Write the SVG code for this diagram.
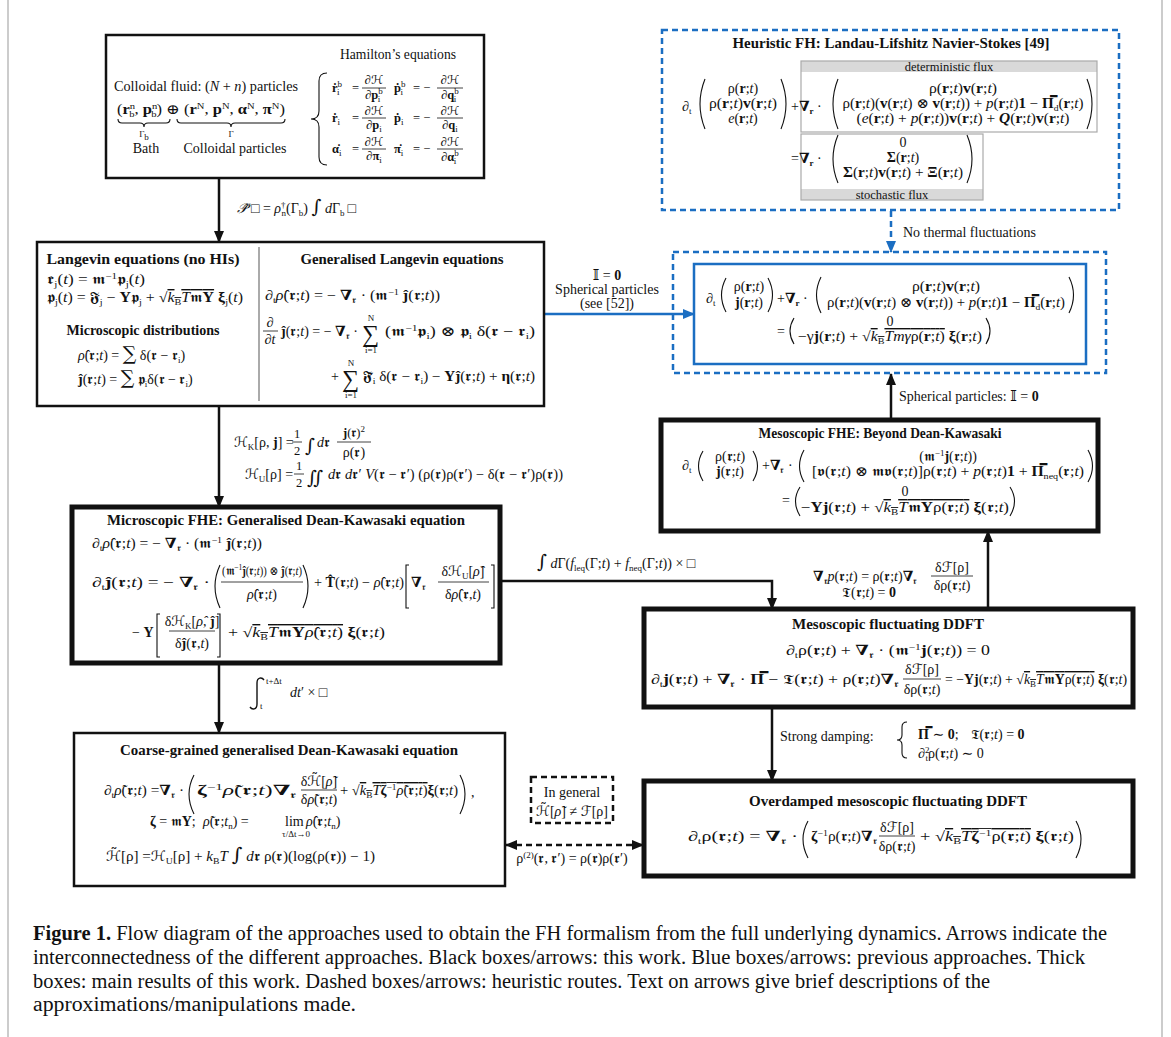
<svg xmlns="http://www.w3.org/2000/svg" width="1171" height="1037" viewBox="0 0 1171 1037">
<defs>
<style>
text{font-family:"Liberation Serif","DejaVu Serif","DejaVu Sans",serif;font-size:14px;fill:#111}
.ti{font-weight:bold;font-size:14px;text-anchor:middle}
.c{text-anchor:middle}
.b{font-weight:bold}
.i{font-style:italic}
.sb{font-size:9px;baseline-shift:-3px}
.sp{font-size:9px;baseline-shift:5px}
.ov{text-decoration:overline}
.bg{font-size:19px;font-family:"DejaVu Serif",serif}
.sg{font-size:24px}
.sm{font-size:9px}
.fs{font-size:12.5px}
.fl{stroke:#111;stroke-width:0.8}
.pr{fill:none;stroke:#111;stroke-width:1.1}
.bx{fill:#fff;stroke:#111;stroke-width:2.5}
.bt{fill:#fff;stroke:#111;stroke-width:5}
.bs{fill:#fff;stroke:#1b6ec2;stroke-width:2.5}
.bd{fill:none;stroke:#1b6ec2;stroke-width:2.5;stroke-dasharray:6 4}
.kd{fill:none;stroke:#111;stroke-width:2.5;stroke-dasharray:6 4}
.gb{fill:none;stroke:#aaa;stroke-width:1.2}
.gf{fill:#d9d9d9}
.cn{fill:none;stroke:#111;stroke-width:2.5}
.cb{fill:none;stroke:#1b6ec2;stroke-width:2.5}
.cap{font-size:20.5px}
.fr{fill:none;stroke:#aaa;stroke-width:1.2}
</style>
<marker id="ak" viewBox="0 0 12 10" refX="11" refY="5" markerWidth="12" markerHeight="10" markerUnits="userSpaceOnUse" orient="auto-start-reverse"><path d="M0,0 L12,5 L0,10 z" fill="#111"/></marker>
<marker id="ab" viewBox="0 0 12 10" refX="11" refY="5" markerWidth="12" markerHeight="10" markerUnits="userSpaceOnUse" orient="auto-start-reverse"><path d="M0,0 L12,5 L0,10 z" fill="#1b6ec2"/></marker>
</defs>
<rect width="1171" height="1037" fill="#fff"/>
<line class="fr" x1="8" y1="0" x2="8" y2="1037"/>
<line class="fr" x1="1162" y1="0" x2="1162" y2="1037"/>

<g id="connectors">
<line class="cn" x1="219" y1="178" x2="219" y2="242" marker-end="url(#ak)"/>
<line class="cb" x1="544" y1="314" x2="694" y2="314" marker-end="url(#ab)"/>
<line class="bd" x1="891" y1="211" x2="891" y2="252" marker-end="url(#ab)"/>
<line class="cn" x1="891" y1="420" x2="891" y2="374" marker-end="url(#ak)"/>
<line class="cn" x1="219" y1="406" x2="219" y2="507" marker-end="url(#ak)"/>
<path class="cn" d="M500,581 H772 V609" marker-end="url(#ak)"/>
<line class="cn" x1="988" y1="609" x2="988" y2="531" marker-end="url(#ak)"/>
<line class="cn" x1="772" y1="707" x2="772" y2="781" marker-end="url(#ak)"/>
<line class="cn" x1="219" y1="663" x2="219" y2="733" marker-end="url(#ak)"/>
<line class="kd" x1="506" y1="845" x2="643" y2="845" marker-start="url(#ak)" marker-end="url(#ak)"/>
<text x="237" y="213"><tspan class="i">𝒫̂</tspan><tspan dx="4">□ = </tspan><tspan class="i">ρ</tspan><tspan class="sp">†</tspan><tspan class="sb" dx="-4">n</tspan>(Γ<tspan class="sb">b</tspan>) <tspan class="bg">∫</tspan> <tspan class="i">d</tspan>Γ<tspan class="sb">b</tspan><tspan dx="3">□</tspan></text>
<text class="c" x="607" y="280">𝕀 = <tspan class="b">0</tspan></text>
<text class="c" x="607" y="294">Spherical particles</text>
<text class="c" x="607" y="308">(see [52])</text>
<text x="903" y="237">No thermal fluctuations</text>
<text x="899" y="401">Spherical particles: 𝕀 = <tspan class="b">0</tspan></text>
<text x="234" y="447">ℋ<tspan class="sb">K</tspan>[ρ, <tspan class="b">j</tspan>] =</text>
<text class="c fs" x="297" y="438">1</text><line class="fl" x1="292" y1="442" x2="302" y2="442"/><text class="c fs" x="297" y="455">2</text>
<text class="bg" x="305" y="452">∫</text>
<text x="317" y="447"><tspan class="i">d</tspan>𝖗</text>
<text class="c fs" x="354" y="437"><tspan class="b">j</tspan>(𝖗)<tspan class="sp">2</tspan></text><line class="fl" x1="337" y1="442" x2="371" y2="442"/><text class="c" x="354" y="457">ρ(𝖗)</text>
<text x="245" y="479">ℋ<tspan class="sb">U</tspan>[ρ] =</text>
<text class="c fs" x="299" y="470">1</text><line class="fl" x1="294" y1="474" x2="304" y2="474"/><text class="c fs" x="299" y="487">2</text>
<text class="bg" x="307" y="484">∬</text>
<text x="328" y="479" textLength="235" lengthAdjust="spacingAndGlyphs"><tspan class="i">d</tspan>𝖗 <tspan class="i">d</tspan>𝖗′ <tspan class="i">V</tspan>(𝖗 − 𝖗′) (ρ(𝖗)ρ(𝖗′) − δ(𝖗 − 𝖗′)ρ(𝖗))</text>
<text x="537" y="568"><tspan class="bg">∫</tspan> <tspan class="i">d</tspan>Γ(<tspan class="i">f</tspan><tspan class="sb">leq</tspan>(Γ;<tspan class="i">t</tspan>) + <tspan class="i">f</tspan><tspan class="sb">neq</tspan>(Γ;<tspan class="i">t</tspan>)) × □</text>
<text x="813" y="581"><tspan class="b">∇</tspan><tspan class="sb">𝖗</tspan><tspan class="i">p</tspan>(𝖗;<tspan class="i">t</tspan>) = ρ(𝖗;<tspan class="i">t</tspan>)<tspan class="b">∇</tspan><tspan class="sb">𝖗</tspan></text>
<text class="c" x="952" y="572">δℱ[ρ]</text><line class="fl" x1="931" y1="576" x2="973" y2="576"/><text class="c" x="952" y="590">δρ(𝖗;<tspan class="i">t</tspan>)</text>
<text x="842" y="597">𝕿(𝖗;<tspan class="i">t</tspan>) = <tspan class="b">0</tspan></text>
<text x="780" y="741">Strong damping:</text>
<path class="pr" stroke-width="1.5" d="M907,722 q-5,0 -5,5 v8 q0,5 -5,5 q5,0 5,5 v8 q0,5 5,5"/>
<text x="918" y="739"><tspan class="b">Π̿</tspan> ∼ <tspan class="b">0</tspan>;<tspan dx="12">𝕿(𝖗;</tspan><tspan class="i">t</tspan>) = <tspan class="b">0</tspan></text>
<text x="918" y="758">∂<tspan class="sp">2</tspan><tspan class="sb" dx="-4">t</tspan>ρ(𝖗;<tspan class="i">t</tspan>) ∼ 0</text>
<path fill="none" stroke="#111" stroke-width="1.4" d="M264,680 c-2,-3 -7,-3 -7,3 v21 c0,6 -5,6 -7,3"/>
<text class="sm" x="266" y="684">t+Δt</text>
<text class="sm" x="260" y="709">t</text>
<text x="290" y="697"><tspan class="i">dt</tspan>′ × □</text>
<text class="c" x="572" y="863">ρ<tspan class="sp">(2)</tspan>(𝖗, 𝖗′) = ρ(𝖗)ρ(𝖗′)</text>
</g>

<g id="hamilton">
<rect class="bx" stroke-width="3" x="106" y="35" width="378" height="143"/>
<text x="114" y="91" textLength="184" lengthAdjust="spacingAndGlyphs">Colloidal fluid: (<tspan class="i">N</tspan> + <tspan class="i">n</tspan>) particles</text>
<text x="117" y="114" textLength="168" lengthAdjust="spacingAndGlyphs">(<tspan class="b">r</tspan><tspan class="sp">n</tspan><tspan class="sb" dx="-5">b</tspan>, <tspan class="b">p</tspan><tspan class="sp">n</tspan><tspan class="sb" dx="-5">b</tspan>) ⊕ (<tspan class="b">r</tspan><tspan class="sp">N</tspan>, <tspan class="b">p</tspan><tspan class="sp">N</tspan>, <tspan class="b">α</tspan><tspan class="sp">N</tspan>, <tspan class="b">π</tspan><tspan class="sp">N</tspan>)</text>
<path class="pr" d="M118,119 q0,4 4,4 h18 q4,0 4,4 q0,-4 4,-4 h18 q4,0 4,-4"/>
<path class="pr" d="M177,119 q0,4 4,4 h46 q4,0 4,4 q0,-4 4,-4 h46 q4,0 4,-4"/>
<text class="c sm" x="144" y="137">Γ<tspan class="sb">b</tspan></text>
<text class="c sm" x="231" y="137">Γ</text>
<text class="c" x="146" y="153">Bath</text>
<text class="c" x="235" y="153">Colloidal particles</text>
<text class="c" x="398" y="59" textLength="116" lengthAdjust="spacingAndGlyphs">Hamilton’s equations</text>
<path class="pr" stroke-width="1.8" d="M327,73 q-8,0 -8,8 v30 q0,8 -8,8 q8,0 8,8 v30 q0,8 8,8"/>
<text class="fs" x="332" y="92"><tspan class="b">ṙ</tspan><tspan class="sp">b</tspan><tspan class="sb" dx="-5">i</tspan></text><text class="fs" x="352" y="92">=</text>
<text class="c fs" x="374" y="84">∂ℋ</text><line class="fl" x1="362" y1="88" x2="386" y2="88"/><text class="c fs" x="374" y="99">∂<tspan class="b">p</tspan><tspan class="sp">b</tspan><tspan class="sb" dx="-5">i</tspan></text>
<text class="fs" x="394" y="92"><tspan class="b">ṗ</tspan><tspan class="sp">b</tspan><tspan class="sb" dx="-5">i</tspan></text><text class="fs" x="413" y="92">= −</text>
<text class="c fs" x="450" y="84">∂ℋ</text><line class="fl" x1="437" y1="88" x2="463" y2="88"/><text class="c fs" x="450" y="99">∂<tspan class="b">q</tspan><tspan class="sp">b</tspan><tspan class="sb" dx="-5">i</tspan></text>
<text class="fs" x="332" y="122"><tspan class="b">ṙ</tspan><tspan class="sb">i</tspan></text><text class="fs" x="352" y="122">=</text>
<text class="c fs" x="374" y="115">∂ℋ</text><line class="fl" x1="362" y1="118" x2="386" y2="118"/><text class="c fs" x="374" y="129">∂<tspan class="b">p</tspan><tspan class="sb">i</tspan></text>
<text class="fs" x="394" y="122"><tspan class="b">ṗ</tspan><tspan class="sb">i</tspan></text><text class="fs" x="413" y="122">= −</text>
<text class="c fs" x="450" y="115">∂ℋ</text><line class="fl" x1="437" y1="118" x2="463" y2="118"/><text class="c fs" x="450" y="129">∂<tspan class="b">q</tspan><tspan class="sb">i</tspan></text>
<text class="fs" x="332" y="153"><tspan class="b">α̇</tspan><tspan class="sb">i</tspan></text><text class="fs" x="352" y="153">=</text>
<text class="c fs" x="374" y="146">∂ℋ</text><line class="fl" x1="362" y1="149" x2="386" y2="149"/><text class="c fs" x="374" y="160">∂<tspan class="b">π</tspan><tspan class="sb">i</tspan></text>
<text class="fs" x="394" y="153"><tspan class="b">π̇</tspan><tspan class="sb">i</tspan></text><text class="fs" x="413" y="153">= −</text>
<text class="c fs" x="450" y="146">∂ℋ</text><line class="fl" x1="437" y1="149" x2="463" y2="149"/><text class="c fs" x="450" y="161">∂<tspan class="b">α</tspan><tspan class="sp">b</tspan><tspan class="sb" dx="-5">i</tspan></text>
</g>

<g id="heuristic">
<rect class="bd" x="662" y="30" width="457" height="180"/>
<text class="ti" x="891" y="48" textLength="317" lengthAdjust="spacingAndGlyphs">Heuristic FH: Landau-Lifshitz Navier-Stokes [49]</text>
<rect class="gf" x="801" y="61" width="296" height="11"/>
<rect class="gb" x="801" y="61" width="296" height="71"/>
<text class="c fs" x="949" y="71">deterministic flux</text>
<rect class="gf" x="801" y="189" width="182" height="11"/>
<rect class="gb" x="801" y="134" width="182" height="66"/>
<text class="c fs" x="892" y="199">stochastic flux</text>
<text x="682" y="111">∂<tspan class="sb">t</tspan></text>
<path class="pr" d="M705,79 Q695,104 705,129"/>
<text class="c" x="743" y="93">ρ(<tspan class="b">r</tspan>;<tspan class="i">t</tspan>)</text>
<text class="c" x="743" y="108" textLength="68" lengthAdjust="spacingAndGlyphs">ρ(<tspan class="b">r</tspan>;<tspan class="i">t</tspan>)<tspan class="b">v</tspan>(<tspan class="b">r</tspan>;<tspan class="i">t</tspan>)</text>
<text class="c" x="743" y="123"><tspan class="i">e</tspan>(<tspan class="b">r</tspan>;<tspan class="i">t</tspan>)</text>
<path class="pr" d="M781,79 Q791,104 781,129"/>
<text x="791" y="111">+<tspan class="b">∇</tspan><tspan class="sb b">r</tspan> ·</text>
<path class="pr" d="M838,79 Q828,104 838,129"/>
<text class="c" x="963" y="93" textLength="68" lengthAdjust="spacingAndGlyphs">ρ(<tspan class="b">r</tspan>;<tspan class="i">t</tspan>)<tspan class="b">v</tspan>(<tspan class="b">r</tspan>;<tspan class="i">t</tspan>)</text>
<text class="c" x="963" y="108" textLength="241" lengthAdjust="spacingAndGlyphs">ρ(<tspan class="b">r</tspan>;<tspan class="i">t</tspan>)(<tspan class="b">v</tspan>(<tspan class="b">r</tspan>;<tspan class="i">t</tspan>) ⊗ <tspan class="b">v</tspan>(<tspan class="b">r</tspan>;<tspan class="i">t</tspan>)) + <tspan class="i">p</tspan>(<tspan class="b">r</tspan>;<tspan class="i">t</tspan>)<tspan class="b">1</tspan> − <tspan class="b">Π̿</tspan><tspan class="sb">d</tspan>(<tspan class="b">r</tspan>;<tspan class="i">t</tspan>)</text>
<text class="c" x="963" y="123" textLength="213" lengthAdjust="spacingAndGlyphs">(<tspan class="i">e</tspan>(<tspan class="b">r</tspan>;<tspan class="i">t</tspan>) + <tspan class="i">p</tspan>(<tspan class="b">r</tspan>;<tspan class="i">t</tspan>))<tspan class="b">v</tspan>(<tspan class="b">r</tspan>;<tspan class="i">t</tspan>) + <tspan class="b i">Q</tspan>(<tspan class="b">r</tspan>;<tspan class="i">t</tspan>)<tspan class="b">v</tspan>(<tspan class="b">r</tspan>;<tspan class="i">t</tspan>)</text>
<path class="pr" d="M1087,79 Q1097,104 1087,129"/>
<text x="791" y="163">=<tspan class="b">∇</tspan><tspan class="sb b">r</tspan> ·</text>
<path class="pr" d="M838,135 Q828,159 838,183"/>
<text class="c" x="903" y="147">0</text>
<text class="c" x="903" y="162"><tspan class="b">Σ</tspan>(<tspan class="b">r</tspan>;<tspan class="i">t</tspan>)</text>
<text class="c" x="903" y="177" textLength="120" lengthAdjust="spacingAndGlyphs"><tspan class="b">Σ</tspan>(<tspan class="b">r</tspan>;<tspan class="i">t</tspan>)<tspan class="b">v</tspan>(<tspan class="b">r</tspan>;<tspan class="i">t</tspan>) + <tspan class="b">Ξ</tspan>(<tspan class="b">r</tspan>;<tspan class="i">t</tspan>)</text>
<path class="pr" d="M967,135 Q977,159 967,183"/>
</g>

<g id="landau">
<rect class="bd" x="673" y="252" width="433" height="121"/>
<rect class="bs" x="694" y="264" width="392" height="100"/>
<text x="706" y="303">∂<tspan class="sb">t</tspan></text>
<path class="pr" d="M726,278 Q717,295 726,312"/>
<text class="c" x="749" y="291">ρ(<tspan class="b">r</tspan>;<tspan class="i">t</tspan>)</text>
<text class="c" x="749" y="307"><tspan class="b">j</tspan>(<tspan class="b">r</tspan>;<tspan class="i">t</tspan>)</text>
<path class="pr" d="M768,278 Q777,295 768,312"/>
<text x="777" y="303">+<tspan class="b">∇</tspan><tspan class="sb b">r</tspan> ·</text>
<path class="pr" d="M821,277 Q812,295 821,313"/>
<text class="c" x="946" y="291" textLength="68" lengthAdjust="spacingAndGlyphs">ρ(<tspan class="b">r</tspan>;<tspan class="i">t</tspan>)<tspan class="b">v</tspan>(<tspan class="b">r</tspan>;<tspan class="i">t</tspan>)</text>
<text class="c" x="946" y="307" textLength="238" lengthAdjust="spacingAndGlyphs">ρ(<tspan class="b">r</tspan>;<tspan class="i">t</tspan>)(<tspan class="b">v</tspan>(<tspan class="b">r</tspan>;<tspan class="i">t</tspan>) ⊗ <tspan class="b">v</tspan>(<tspan class="b">r</tspan>;<tspan class="i">t</tspan>)) + <tspan class="i">p</tspan>(<tspan class="b">r</tspan>;<tspan class="i">t</tspan>)<tspan class="b">1</tspan> − <tspan class="b">Π̿</tspan><tspan class="sb">d</tspan>(<tspan class="b">r</tspan>;<tspan class="i">t</tspan>)</text>
<path class="pr" d="M1069,277 Q1078,295 1069,313"/>
<text x="777" y="336">=</text>
<path class="pr" d="M794,318 Q786,331 794,344"/>
<text class="c" x="890" y="326">0</text>
<text class="c" x="890" y="341" textLength="184" lengthAdjust="spacingAndGlyphs">−γ<tspan class="b">j</tspan>(<tspan class="b">r</tspan>;<tspan class="i">t</tspan>) + √<tspan class="ov"><tspan class="i">k</tspan><tspan class="sb">B</tspan><tspan class="i">Tmγ</tspan>ρ(<tspan class="b">r</tspan>;<tspan class="i">t</tspan>)</tspan> <tspan class="b">ξ</tspan>(<tspan class="b">r</tspan>;<tspan class="i">t</tspan>)</text>
<path class="pr" d="M986,318 Q994,331 986,344"/>
</g>

<g id="langevin">
<rect class="bx" x="37" y="242" width="507" height="164"/>
<line x1="259" y1="247" x2="259" y2="401" stroke="#aaa" stroke-width="2"/>
<text class="ti" x="143" y="264" textLength="193" lengthAdjust="spacingAndGlyphs">Langevin equations (no HIs)</text>
<text x="47" y="284" textLength="98" lengthAdjust="spacingAndGlyphs">𝖗̇<tspan class="sb">j</tspan>(<tspan class="i">t</tspan>) = 𝖒<tspan class="sp">−1</tspan>𝖕<tspan class="sb">j</tspan>(<tspan class="i">t</tspan>)</text>
<text x="47" y="302" textLength="196" lengthAdjust="spacingAndGlyphs">𝖕̇<tspan class="sb">j</tspan>(<tspan class="i">t</tspan>) = 𝕱<tspan class="sb">j</tspan> − <tspan class="b">Υ</tspan>𝖕<tspan class="sb">j</tspan> + √<tspan class="ov"><tspan class="i">k</tspan><tspan class="sb">B</tspan><tspan class="i">T</tspan>𝖒<tspan class="b">Υ</tspan></tspan> <tspan class="b">ξ</tspan><tspan class="sb">j</tspan>(<tspan class="i">t</tspan>)</text>
<text class="ti" x="143" y="335" textLength="153" lengthAdjust="spacingAndGlyphs">Microscopic distributions</text>
<text x="78" y="360"><tspan class="i">ρ̂</tspan>(𝖗;<tspan class="i">t</tspan>) = <tspan class="bg">∑</tspan> δ(𝖗 − 𝖗<tspan class="sb">i</tspan>)</text>
<text x="78" y="384"><tspan class="b">ĵ</tspan>(𝖗;<tspan class="i">t</tspan>) = <tspan class="bg">∑</tspan> 𝖕<tspan class="sb">i</tspan>δ(𝖗 − 𝖗<tspan class="sb">i</tspan>)</text>
<text class="ti" x="402" y="264" textLength="203" lengthAdjust="spacingAndGlyphs">Generalised Langevin equations</text>
<text x="265" y="300" textLength="175" lengthAdjust="spacingAndGlyphs">∂<tspan class="sb">t</tspan><tspan class="i">ρ̂</tspan>(𝖗;<tspan class="i">t</tspan>) = − <tspan class="b">∇</tspan><tspan class="sb">𝖗</tspan> · (𝖒<tspan class="sp">−1</tspan> <tspan class="b">ĵ</tspan>(𝖗;<tspan class="i">t</tspan>))</text>
<text class="c" x="270" y="327">∂</text><line class="fl" x1="263" y1="331" x2="278" y2="331"/><text class="c" x="270" y="344">∂<tspan class="i">t</tspan></text>
<text x="281" y="336"><tspan class="b">ĵ</tspan>(𝖗;<tspan class="i">t</tspan>) = − <tspan class="b">∇</tspan><tspan class="sb">𝖗</tspan> ·</text>
<text class="sg" x="362" y="342">∑</text>
<text class="c sm" x="371" y="321">N</text><text class="c sm" x="371" y="353">i=1</text>
<text x="385" y="336" textLength="150" lengthAdjust="spacingAndGlyphs">(𝖒<tspan class="sp">−1</tspan>𝖕<tspan class="sb">i</tspan>) ⊗ 𝖕<tspan class="sb">i</tspan> δ(𝖗 − 𝖗<tspan class="sb">i</tspan>)</text>
<text x="331" y="381">+</text>
<text class="sg" x="342" y="387">∑</text>
<text class="c sm" x="351" y="366">N</text><text class="c sm" x="351" y="398">i=1</text>
<text x="363" y="381" textLength="172" lengthAdjust="spacingAndGlyphs">𝕱̃<tspan class="sb">i</tspan> δ(𝖗 − 𝖗<tspan class="sb">i</tspan>) − <tspan class="b">Υĵ</tspan>(𝖗;<tspan class="i">t</tspan>) + <tspan class="b">η</tspan>(𝖗;<tspan class="i">t</tspan>)</text>
</g>

<g id="beyond-dk">
<rect class="bt" x="661" y="420" width="437" height="111"/>
<text class="ti" x="880" y="438" textLength="243" lengthAdjust="spacingAndGlyphs">Mesoscopic FHE: Beyond Dean-Kawasaki</text>
<text x="682" y="470">∂<tspan class="sb">t</tspan></text>
<path class="pr" d="M703,451 Q694,466 703,481"/>
<text class="c" x="730" y="461">ρ(𝖗;<tspan class="i">t</tspan>)</text>
<text class="c" x="730" y="476"><tspan class="b">j</tspan>(𝖗;<tspan class="i">t</tspan>)</text>
<path class="pr" d="M753,451 Q762,466 753,481"/>
<text x="762" y="470">+<tspan class="b">∇</tspan><tspan class="sb">𝖗</tspan> ·</text>
<path class="pr" d="M804,450 Q795,466 804,482"/>
<text class="c" x="948" y="461">(𝖒<tspan class="sp">−1</tspan><tspan class="b">j</tspan>(𝖗;<tspan class="i">t</tspan>))</text>
<text class="c" x="948" y="476" textLength="272" lengthAdjust="spacingAndGlyphs">[𝖛(𝖗;<tspan class="i">t</tspan>) ⊗ 𝖒𝖛(𝖗;<tspan class="i">t</tspan>)]ρ(𝖗;<tspan class="i">t</tspan>) + <tspan class="i">p</tspan>(𝖗;<tspan class="i">t</tspan>)<tspan class="b">1</tspan> + <tspan class="b">Π̿</tspan><tspan class="sb">neq</tspan>(𝖗;<tspan class="i">t</tspan>)</text>
<path class="pr" d="M1088,450 Q1097,466 1088,482"/>
<text x="782" y="505">=</text>
<path class="pr" d="M800,487 Q791,501 800,516"/>
<text class="c" x="905" y="496">0</text>
<text class="c" x="905" y="512" textLength="208" lengthAdjust="spacingAndGlyphs">−<tspan class="b">Υj</tspan>(𝖗;<tspan class="i">t</tspan>) + √<tspan class="ov"><tspan class="i">k</tspan><tspan class="sb">B</tspan><tspan class="i">T</tspan>𝖒<tspan class="b">Υ</tspan>ρ(𝖗;<tspan class="i">t</tspan>)</tspan> <tspan class="b">ξ</tspan>(𝖗;<tspan class="i">t</tspan>)</text>
<path class="pr" d="M1010,487 Q1019,501 1010,516"/>
</g>

<g id="micro-fhe">
<rect class="bt" x="72" y="507" width="428" height="156"/>
<text class="ti" x="286" y="525" textLength="358" lengthAdjust="spacingAndGlyphs">Microscopic FHE: Generalised Dean-Kawasaki equation</text>
<text x="92" y="548" textLength="170" lengthAdjust="spacingAndGlyphs">∂<tspan class="sb">t</tspan><tspan class="i">ρ̂</tspan>(𝖗;<tspan class="i">t</tspan>) = − <tspan class="b">∇</tspan><tspan class="sb">𝖗</tspan> · (𝖒<tspan class="sp">−1</tspan> <tspan class="b">ĵ</tspan>(𝖗;<tspan class="i">t</tspan>))</text>
<text x="92" y="587" textLength="118" lengthAdjust="spacingAndGlyphs">∂<tspan class="sb">t</tspan><tspan class="b">ĵ</tspan>(𝖗;<tspan class="i">t</tspan>) = − <tspan class="b">∇</tspan><tspan class="sb">𝖗</tspan> ·</text>
<path class="pr" d="M220,565 Q210,586 220,608"/>
<text class="c fs" x="262" y="575" textLength="80" lengthAdjust="spacingAndGlyphs">(𝖒<tspan class="sp">−1</tspan><tspan class="b">ĵ</tspan>(𝖗;<tspan class="i">t</tspan>)) ⊗ <tspan class="b">ĵ</tspan>(𝖗;<tspan class="i">t</tspan>)</text>
<line class="fl" x1="221" y1="582" x2="303" y2="582"/>
<text class="c" x="262" y="599"><tspan class="i">ρ̂</tspan>(𝖗;<tspan class="i">t</tspan>)</text>
<path class="pr" d="M303,565 Q313,586 303,608"/>
<text x="314" y="587" textLength="90" lengthAdjust="spacingAndGlyphs">+ <tspan class="b">T̂</tspan>(𝖗;<tspan class="i">t</tspan>) − <tspan class="i">ρ̂</tspan>(𝖗;<tspan class="i">t</tspan>)</text>
<path class="pr" d="M409,565 h-3 v43 h3"/>
<text x="411" y="587"><tspan class="b">∇</tspan><tspan class="sb">𝖗</tspan></text>
<text class="c" x="463" y="576">δℋ<tspan class="sb">U</tspan>[<tspan class="i">ρ̂</tspan>]</text>
<line class="fl" x1="438" y1="582" x2="489" y2="582"/>
<text class="c" x="463" y="599">δ<tspan class="i">ρ̂</tspan>(𝖗,<tspan class="i">t</tspan>)</text>
<path class="pr" d="M491,565 h3 v43 h-3"/>
<text x="132" y="637">− <tspan class="b">Υ</tspan></text>
<path class="pr" d="M160,614 h-3 v43 h3"/>
<text class="c" x="192" y="626">δℋ<tspan class="sb">K</tspan>[<tspan class="i">ρ̂</tspan>, <tspan class="b">ĵ</tspan>]</text>
<line class="fl" x1="169" y1="631" x2="215" y2="631"/>
<text class="c" x="192" y="648">δ<tspan class="b">ĵ</tspan>(𝖗,<tspan class="i">t</tspan>)</text>
<path class="pr" d="M217,614 h3 v43 h-3"/>
<text x="228" y="637" textLength="157" lengthAdjust="spacingAndGlyphs">+ √<tspan class="ov"><tspan class="i">k</tspan><tspan class="sb">B</tspan><tspan class="i">T</tspan>𝖒<tspan class="b">Υ</tspan><tspan class="i">ρ̂</tspan>(𝖗;<tspan class="i">t</tspan>)</tspan> <tspan class="b">ξ</tspan>(𝖗;<tspan class="i">t</tspan>)</text>
</g>

<g id="fluct-ddft">
<rect class="bt" x="644" y="609" width="489" height="98"/>
<text class="ti" x="888" y="629" textLength="192" lengthAdjust="spacingAndGlyphs">Mesoscopic fluctuating DDFT</text>
<text class="c" x="888" y="655" textLength="204" lengthAdjust="spacingAndGlyphs">∂<tspan class="sb">t</tspan>ρ(𝖗;<tspan class="i">t</tspan>) + <tspan class="b">∇</tspan><tspan class="sb">𝖗</tspan> · (𝖒<tspan class="sp">−1</tspan><tspan class="b">j</tspan>(𝖗;<tspan class="i">t</tspan>)) = 0</text>
<text x="651" y="684" textLength="248" lengthAdjust="spacingAndGlyphs">∂<tspan class="sb">t</tspan><tspan class="b">j</tspan>(𝖗;<tspan class="i">t</tspan>) + <tspan class="b">∇</tspan><tspan class="sb">𝖗</tspan> · <tspan class="b">Π̿</tspan> − 𝕿(𝖗;<tspan class="i">t</tspan>) + ρ(𝖗;<tspan class="i">t</tspan>)<tspan class="b">∇</tspan><tspan class="sb">𝖗</tspan></text>
<text class="c" x="922" y="674">δℱ[ρ]</text>
<line class="fl" x1="903" y1="679" x2="941" y2="679"/>
<text class="c" x="922" y="694">δρ(𝖗;<tspan class="i">t</tspan>)</text>
<text x="945" y="684" textLength="182" lengthAdjust="spacingAndGlyphs">= −<tspan class="b">Υj</tspan>(𝖗;<tspan class="i">t</tspan>) + √<tspan class="ov"><tspan class="i">k</tspan><tspan class="sb">B</tspan><tspan class="i">T</tspan>𝖒<tspan class="b">Υ</tspan>ρ(𝖗;<tspan class="i">t</tspan>)</tspan> <tspan class="b">ξ</tspan>(𝖗;<tspan class="i">t</tspan>)</text>
</g>

<g id="coarse-grained">
<rect class="bx" x="74" y="733" width="431" height="153"/>
<text class="ti" x="289" y="755" textLength="338" lengthAdjust="spacingAndGlyphs">Coarse-grained generalised Dean-Kawasaki equation</text>
<text x="104" y="795" textLength="80" lengthAdjust="spacingAndGlyphs">∂<tspan class="sb">t</tspan><tspan class="i">ρ̃</tspan>(𝖗;<tspan class="i">t</tspan>) =<tspan class="b">∇</tspan><tspan class="sb">𝖗</tspan> ·</text>
<path class="pr" d="M194,775 Q184,794 194,814"/>
<text x="197" y="795" textLength="100" lengthAdjust="spacingAndGlyphs"><tspan class="b">ζ</tspan><tspan class="sp">−1</tspan><tspan class="i">ρ̃</tspan>(𝖗;<tspan class="i">t</tspan>)<tspan class="b">∇</tspan><tspan class="sb">𝖗</tspan></text>
<text class="c" x="319" y="786">δℋ̃[<tspan class="i">ρ̃</tspan>]</text>
<line class="fl" x1="301" y1="790" x2="337" y2="790"/>
<text class="c" x="319" y="804">δ<tspan class="i">ρ̃</tspan>(𝖗;<tspan class="i">t</tspan>)</text>
<text x="340" y="795" textLength="118" lengthAdjust="spacingAndGlyphs">+ √<tspan class="ov"><tspan class="i">k</tspan><tspan class="sb">B</tspan><tspan class="i">T</tspan><tspan class="b">ζ</tspan><tspan class="sp">−1</tspan><tspan class="i">ρ̃</tspan>(𝖗;<tspan class="i">t</tspan>)</tspan><tspan class="b">ξ</tspan>(𝖗;<tspan class="i">t</tspan>)</text>
<path class="pr" d="M460,775 Q470,794 460,814"/>
<text x="471" y="797">,</text>
<text x="150" y="826"><tspan class="b">ζ</tspan> = 𝖒<tspan class="b">Υ</tspan>;</text>
<text x="203" y="826"><tspan class="i">ρ̃</tspan>(𝖗;<tspan class="i">t</tspan><tspan class="sb">n</tspan>) =</text>
<text x="285" y="826">lim</text>
<text class="c sm" x="296" y="837">τ/Δt→0</text>
<text x="306" y="826"><tspan class="i">ρ̂</tspan>(𝖗;<tspan class="i">t</tspan><tspan class="sb">n</tspan>)</text>
<text x="106" y="861" textLength="269" lengthAdjust="spacingAndGlyphs">ℋ̃[ρ] =ℋ<tspan class="sb">U</tspan>[ρ] + <tspan class="i">k</tspan><tspan class="sb">B</tspan><tspan class="i">T</tspan> <tspan class="bg">∫</tspan> <tspan class="i">d</tspan>𝖗 ρ(𝖗)(log(ρ(𝖗)) − 1)</text>
</g>

<g id="in-general">
<rect class="kd" fill="#fff" x="531" y="777" width="82" height="46"/>
<text class="c" x="572" y="797">In general</text>
<text class="c" x="572" y="816">ℋ̃[<tspan class="i">ρ̃</tspan>] ≠ ℱ[ρ]</text>
</g>

<g id="overdamped">
<rect class="bt" x="644" y="781" width="489" height="95"/>
<text class="ti" x="888" y="806" textLength="278" lengthAdjust="spacingAndGlyphs">Overdamped mesoscopic fluctuating DDFT</text>
<text x="688" y="841" textLength="110" lengthAdjust="spacingAndGlyphs">∂<tspan class="sb">t</tspan>ρ(𝖗;<tspan class="i">t</tspan>) = <tspan class="b">∇</tspan><tspan class="sb">𝖗</tspan> ·</text>
<path class="pr" d="M808,821 Q798,839 808,858"/>
<text x="811" y="841" textLength="66" lengthAdjust="spacingAndGlyphs"><tspan class="b">ζ</tspan><tspan class="sp">−1</tspan>ρ(𝖗;<tspan class="i">t</tspan>)<tspan class="b">∇</tspan><tspan class="sb">𝖗</tspan></text>
<text class="c" x="897" y="832">δℱ[ρ]</text>
<line class="fl" x1="879" y1="836" x2="915" y2="836"/>
<text class="c" x="897" y="851">δρ(𝖗;<tspan class="i">t</tspan>)</text>
<text x="920" y="841" textLength="154" lengthAdjust="spacingAndGlyphs">+ √<tspan class="ov"><tspan class="i">k</tspan><tspan class="sb">B</tspan><tspan class="i">T</tspan><tspan class="b">ζ</tspan><tspan class="sp">−1</tspan>ρ(𝖗;<tspan class="i">t</tspan>)</tspan> <tspan class="b">ξ</tspan>(𝖗;<tspan class="i">t</tspan>)</text>
<path class="pr" d="M1076,821 Q1086,839 1076,858"/>
</g>

<g id="caption">
<text class="cap" x="33" y="940" textLength="1074" lengthAdjust="spacingAndGlyphs"><tspan class="b">Figure 1.</tspan> Flow diagram of the approaches used to obtain the FH formalism from the full underlying dynamics. Arrows indicate the</text>
<text class="cap" x="33" y="964" textLength="1052" lengthAdjust="spacingAndGlyphs">interconnectedness of the different approaches. Black boxes/arrows: this work. Blue boxes/arrows: previous approaches. Thick</text>
<text class="cap" x="33" y="988" textLength="957" lengthAdjust="spacingAndGlyphs">boxes: main results of this work. Dashed boxes/arrows: heuristic routes. Text on arrows give brief descriptions of the</text>
<text class="cap" x="33" y="1011" textLength="323" lengthAdjust="spacingAndGlyphs">approximations/manipulations made.</text>
</g>
</svg>
